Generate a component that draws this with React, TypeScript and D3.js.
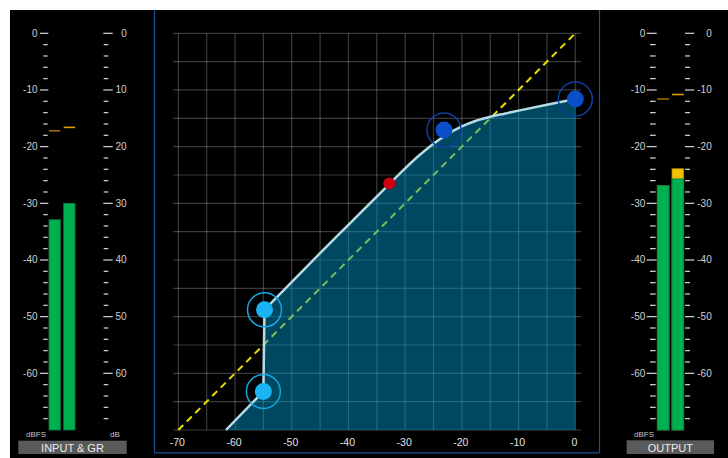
import React from "react";
import * as d3 from "d3";

// ---- data ----
const xTicks = [-70, -60, -50, -40, -30, -20, -10, 0];
const gridSteps = [-70, -65, -60, -55, -50, -45, -40, -35, -30, -25, -20, -15, -10, -5, 0];

const curveIn = [-61.6, -55.0, -54.8, -45, -40, -35, -32.8, -30, -27.5, -25, -22.5, -20, -17.5, -15, -12.5, -10, -5, 0];
const curveOut = [-70, -63.2, -48.8, -38.8, -33.8, -28.8, -26.6, -23.83, -21.53, -19.48, -17.78, -16.43, -15.43, -14.73, -14.18, -13.64, -12.6, -11.6];

const handleIn = [-55.0, -54.8, -23.15, 0];
const handleOut = [-63.2, -48.8, -17.05, -11.6];
const handleKind = ["gate", "gate", "comp", "comp"];

const kneeIn = -32.8;
const kneeOut = -26.5;

const meterMajor = [0, -10, -20, -30, -40, -50, -60];
const meterMinor = [-2, -4, -6, -8, -12, -14, -16, -18, -22, -24, -26, -28, -32, -34, -36, -38, -42, -44, -46, -48, -52, -54, -56, -58, -62, -64, -66, -68];

const inputBars = [-32.9, -30.0];
const inputPeaks = [-17.2, -16.6];
const outputBars = [-26.9, -23.9];
const outputGreenTop = [-26.9, -25.7];
const outputPeaks = [-11.6, -10.8];

const FONT = "'Liberation Sans', Arial, sans-serif";

export default function App() {
  const x = d3.scaleLinear().domain([-70, 0]).range([178.3, 575.3]);
  const y = d3.scaleLinear().domain([-70, 0]).range([430, 33.3]);

  const pts: [number, number][] = curveIn.map((v, i) => [v, curveOut[i]]);
  const lin = d3.line<[number, number]>().x(d => x(d[0])).y(d => y(d[1])).curve(d3.curveLinear);
  const mono = d3.line<[number, number]>().x(d => x(d[0])).y(d => y(d[1])).curve(d3.curveMonotoneX);
  const pA = lin(pts.slice(0, 3)) || "";
  const pB = (mono(pts.slice(2)) || "").replace(/^M/, "L");
  const curvePath = pA + pB;
  const areaPath =
    curvePath +
    `L${x(0)},${y(-70)}L${x(curveIn[0])},${y(-70)}Z`;

  const tickColor = "#d8d8d8";
  const labelColor = "#cfcfcf";

  const meterScale = (
    majorX: [number, number],
    minorX: [number, number],
    labelX: number,
    fmt: (v: number) => string
  ) => (
    <g>
      {meterMajor.map(v => (
        <line key={"M" + v} x1={majorX[0]} x2={majorX[1]} y1={y(v)} y2={y(v)} stroke={tickColor} strokeWidth={1.2} />
      ))}
      {meterMinor.map(v => (
        <line key={"m" + v} x1={minorX[0]} x2={minorX[1]} y1={y(v)} y2={y(v)} stroke={tickColor} strokeWidth={1.2} />
      ))}
      {meterMajor.map(v => (
        <text key={"t" + v} x={labelX} y={y(v) + 3.5} fill={labelColor} fontSize={10} fontFamily={FONT} textAnchor="end">
          {fmt(v)}
        </text>
      ))}
    </g>
  );

  const barY = y(-70);

  return (
    <svg width={728} height={458} style={{ position: "absolute", left: 0, top: 0 }}>
      <rect x={0} y={0} width={728} height={458} fill="#ffffff" />
      <rect x={10} y={10} width={718} height={448} fill="#000000" />

      {/* panel border */}
      <line x1={154.5} x2={154.5} y1={10} y2={453} stroke="#1d4f8f" strokeWidth={1.2} />
      <line x1={599.5} x2={599.5} y1={10} y2={453} stroke="#1d4f8f" strokeWidth={1.2} />
      <line x1={154.5} x2={599.5} y1={452.8} y2={452.8} stroke="#1d4f8f" strokeWidth={1.2} />

      {/* grid */}
      {gridSteps.map(v => (
        <line key={"gv" + v} x1={x(v)} x2={x(v)} y1={y(0)} y2={y(-70)} stroke="rgba(255,255,255,0.23)" strokeWidth={1.2} />
      ))}
      {gridSteps.map(v => (
        <line key={"gh" + v} x1={173} x2={581} y1={y(v)} y2={y(v)} stroke="rgba(255,255,255,0.23)" strokeWidth={1.2} />
      ))}

      {/* unity dashed line */}
      <line x1={x(-70)} y1={y(-70)} x2={x(0)} y2={y(0)} stroke="#e8e000" strokeWidth={2} strokeDasharray="7,5" />

      {/* area */}
      <path d={areaPath} fill="rgba(0,150,205,0.47)" />

      {/* curve */}
      <path d={curvePath} fill="none" stroke="#b4dbe8" strokeWidth={2.5} strokeLinejoin="round" />

      {/* handles */}
      {handleIn.map((v, i) => {
        const gate = handleKind[i] === "gate";
        return (
          <g key={"h" + i}>
            <circle cx={x(v)} cy={y(handleOut[i])} r={17} fill="none" stroke={gate ? "#16a6e2" : "#0b3f9e"} strokeWidth={1.5} />
            <circle cx={x(v)} cy={y(handleOut[i])} r={8.5} fill={gate ? "#1ab4f4" : "#0a4fc8"} />
          </g>
        );
      })}
      <circle cx={x(kneeIn)} cy={y(kneeOut)} r={6} fill="#cc0010" />

      {/* x axis labels */}
      {xTicks.map(v => (
        <text key={"xt" + v} x={x(v) - 1} y={445.5} fill="#e2e2e2" fontSize={10.5} fontFamily={FONT} textAnchor="middle">
          {String(v)}
        </text>
      ))}

      {/* input meter */}
      {meterScale([40, 48.3], [43.3, 47.7], 37.5, v => String(v))}
      {meterScale([103.3, 112.7], [103.7, 108.3], 126.7, v => String(-v))}
      {inputBars.map((v, i) => {
        const bx = i === 0 ? 49 : 63.7;
        return (
          <rect key={"ib" + i} x={bx} y={y(v)} width={11.3} height={barY - y(v)} fill="#00b050" stroke="#0a7a3a" strokeWidth={0.8} />
        );
      })}
      {inputPeaks.map((v, i) => {
        const bx = i === 0 ? 49 : 63.7;
        return (
          <line key={"ip" + i} x1={bx} x2={bx + 11.3} y1={y(v)} y2={y(v)} stroke={i === 0 ? "#9c6e00" : "#d9a000"} strokeWidth={1.6} />
        );
      })}
      <text x={36} y={437} fill="#c8c8c8" fontSize={8} fontFamily={FONT} textAnchor="middle">dBFS</text>
      <text x={115} y={437} fill="#c8c8c8" fontSize={8} fontFamily={FONT} textAnchor="middle">dB</text>
      <rect x={18.3} y={440.7} width={108.4} height={13.3} fill="#5a5a5a" />
      <text x={72.5} y={451.5} fill="#ececec" fontSize={11} fontFamily={FONT} textAnchor="middle">INPUT &amp; GR</text>

      {/* output meter */}
      {meterScale([646.7, 656.7], [650, 655.7], 645.3, v => String(v))}
      {meterScale([685, 694.3], [685, 690], 711.7, v => String(v))}
      {outputBars.map((v, i) => {
        const bx = i === 0 ? 657.3 : 672;
        return (
          <g key={"ob" + i}>
            <rect x={bx} y={y(v)} width={11.7} height={barY - y(v)} fill="#f5c000" stroke="#b08a00" strokeWidth={0.8} />
            <rect x={bx} y={y(outputGreenTop[i])} width={11.7} height={barY - y(outputGreenTop[i])} fill="#00b050" stroke="#0a7a3a" strokeWidth={0.8} />
          </g>
        );
      })}
      {outputPeaks.map((v, i) => {
        const bx = i === 0 ? 657.3 : 672;
        return (
          <line key={"op" + i} x1={bx} x2={bx + 11.7} y1={y(v)} y2={y(v)} stroke={i === 0 ? "#9c6e00" : "#d9a000"} strokeWidth={1.6} />
        );
      })}
      <text x={644} y={437} fill="#c8c8c8" fontSize={8} fontFamily={FONT} textAnchor="middle">dBFS</text>
      <rect x={626.7} y={440.3} width={87.3} height={13.7} fill="#5a5a5a" />
      <text x={670.3} y={451.5} fill="#ececec" fontSize={11} fontFamily={FONT} textAnchor="middle">OUTPUT</text>
    </svg>
  );
}
